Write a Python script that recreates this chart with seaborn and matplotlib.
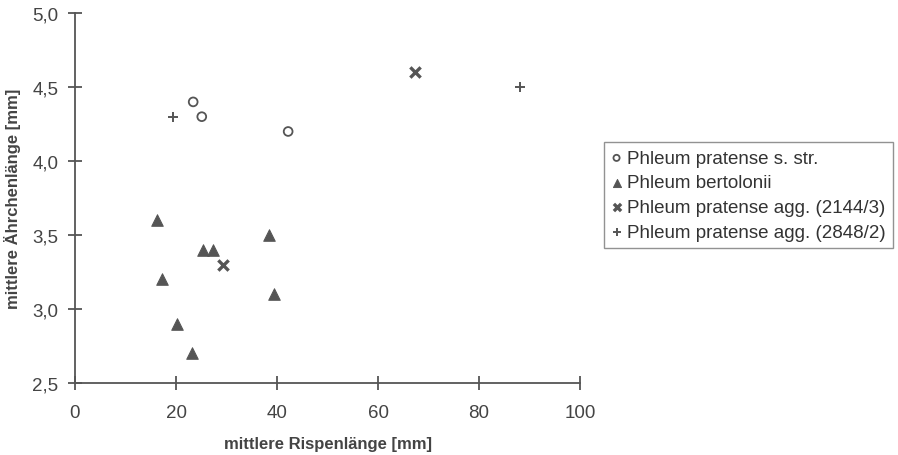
import pandas as pd
import numpy as np
import seaborn as sns
import matplotlib.pyplot as plt
from matplotlib.ticker import FuncFormatter

# data
groups = ["Phleum pratense s. str.", "Phleum bertolonii",
          "Phleum pratense agg. (2144/3)", "Phleum pratense agg. (2848/2)"]
pratense_x = [23.4, 25.1, 42.2]
pratense_y = [4.4, 4.3, 4.2]
bertolonii_x = [16.2, 17.2, 20.2, 23.2, 25.3, 27.3, 38.4, 39.4]
bertolonii_y = [3.6, 3.2, 2.9, 2.7, 3.4, 3.4, 3.5, 3.1]
agg2144_x = [29.3, 67.3]
agg2144_y = [3.3, 4.6]
agg2848_x = [19.4, 88.1]
agg2848_y = [4.3, 4.5]

xs = [pratense_x, bertolonii_x, agg2144_x, agg2848_x]
ys = [pratense_y, bertolonii_y, agg2144_y, agg2848_y]
df = pd.concat([pd.DataFrame({"x": x, "y": y, "Art": g}) for g, x, y in zip(groups, xs, ys)],
               ignore_index=True)

sns.set_style("white")
plt.rcParams['font.family'] = ['Liberation Sans', 'DejaVu Sans']

grey = "#555555"
fig = plt.figure(figsize=(8.98, 4.56), dpi=100)
ax = fig.add_axes([0.0835, 0.158, 0.5625, 0.811])

# draw each group separately so fill/edge can differ
for g in groups:
    sub = df[df["Art"] == g]
    if g == groups[0]:
        kw = dict(marker="o", s=40, facecolor="none", edgecolor=grey, linewidth=1.3)
    elif g == groups[1]:
        kw = dict(marker="^", s=70, color=grey, edgecolor=grey)
    elif g == groups[2]:
        kw = dict(marker="x", s=55, color=grey, linewidth=2.4)
    else:
        kw = dict(marker="+", s=60, color=grey, linewidth=1.4)
    sns.scatterplot(data=sub, x="x", y="y", ax=ax, label=g, **kw)

ax.set_xlim(0, 100)
ax.set_ylim(2.5, 5.0)
ax.set_xticks([0, 20, 40, 60, 80, 100])
ax.set_yticks([2.5, 3.0, 3.5, 4.0, 4.5, 5.0])
ax.yaxis.set_major_formatter(FuncFormatter(lambda v, p: f"{v:.1f}".replace(".", ",")))
ax.tick_params(bottom=True, left=True, direction="inout", length=10, width=1.3, color=grey,
               labelcolor="#444444", labelsize=13.5)
ax.tick_params(axis="x", pad=10)
ax.tick_params(axis="y", pad=7)
sns.despine(ax=ax)
for sp in ["left", "bottom"]:
    ax.spines[sp].set_color(grey)
    ax.spines[sp].set_linewidth(1.3)

ax.set_xlabel("mittlere Rispenlänge [mm]", fontsize=12, fontweight="bold", color="#444444", labelpad=11)
ax.set_ylabel("mittlere Ährchenlänge [mm]", fontsize=12, fontweight="bold", color="#444444", labelpad=8)

leg = ax.legend(loc="upper left", bbox_to_anchor=(0.673, 0.686), bbox_transform=fig.transFigure,
                frameon=True, fancybox=False, fontsize=13.5, handlelength=0.5, handletextpad=0.3,
                borderpad=0.4, borderaxespad=0, labelspacing=0.4, markerscale=0.7)
leg.get_frame().set_edgecolor("#777777")
leg.get_frame().set_linewidth(1.0)
for t in leg.get_texts():
    t.set_color("#333333")

plt.savefig("out.png", dpi=100)
